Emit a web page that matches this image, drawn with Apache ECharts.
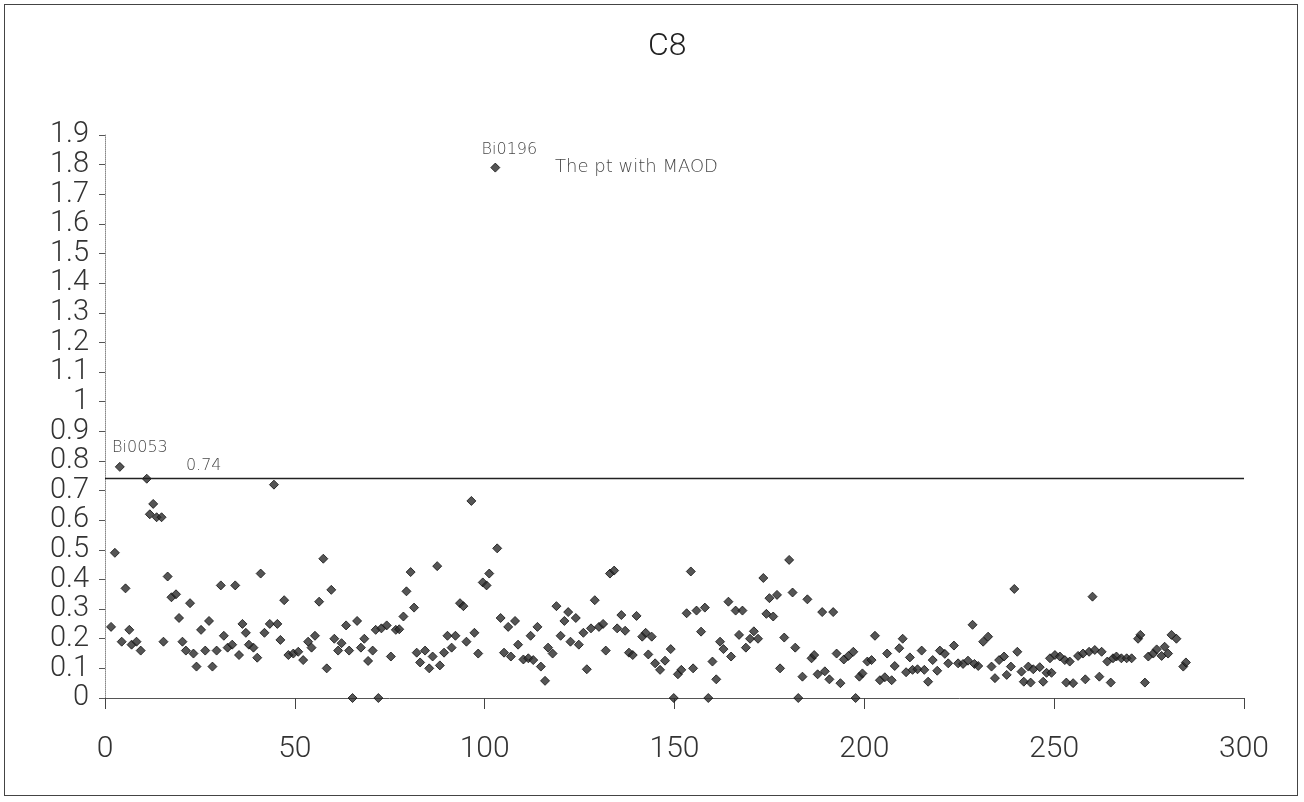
<!DOCTYPE html>
<html>
<head>
<meta charset="utf-8">
<script src="https://cdn.jsdelivr.net/npm/echarts@6/dist/echarts.min.js"></script>
<style>
html,body{margin:0;padding:0;background:#fff;}
#wrap{position:relative;width:1304px;height:802px;}
#frame{position:absolute;left:4px;top:4px;width:1294px;height:792px;border:1px solid #444;box-sizing:border-box;pointer-events:none;}
#chart{position:absolute;left:0;top:0;width:1304px;height:802px;}
</style>
</head>
<body>
<div id="wrap"><div id="chart"></div><div id="frame"></div></div>
<script>
// ---- data ----
var titleText = 'C8';
var sampleX = [
1.6,2.6,3.9,4.4,5.4,6.4,7,8.3,9.4,11,11.8,12.7,13.6,14.9,15.4,16.5,17.5,18.7,19.5,20.4,
21.3,22.4,23.3,24.1,25.3,26.4,27.4,28.3,29.4,30.5,31.3,32.3,33.5,34.3,35.3,36.2,37.1,37.9,39.1,40.1,
41,42,43.4,44.5,45.4,46.2,47.2,48.3,49.6,50.9,52.2,53.5,54.4,55.3,56.4,57.5,58.4,59.6,60.4,61.4,
62.3,63.5,64.3,65.2,66.4,67.4,68.3,69.3,70.5,71.3,72,72.8,74.2,75.3,76.6,77.5,78.6,79.4,80.5,81.4,
82.1,83,84.3,85.4,86.3,87.5,88.2,89.3,90.2,91.3,92.3,93.5,94.4,95.2,96.5,97.3,98.3,99.5,100.5,101.2,
102.8,103.3,104.2,105.1,106.2,106.9,108,108.8,110.2,111.5,112.1,112.8,113.9,114.8,115.9,116.7,117.9,118.9,120,121,
122,122.6,124,124.8,126,126.9,128,129,130.1,131.2,131.9,133,134.1,134.9,136,137,138,139,140,141.5,
142.4,143.1,144,144.9,146.2,147.5,149,149.8,150.9,151.8,153.2,154.3,154.9,155.8,157,158,158.9,160,161,162,
162.9,164.2,164.9,166.1,167,167.9,168.8,169.9,170.9,172,173.4,174.2,175,176,177,177.8,178.9,180.2,181.1,181.8,
182.6,183.7,185,186.1,186.8,187.7,188.9,189.6,190.8,191.8,192.7,193.7,194.6,195.8,197.1,197.7,198.7,199.5,200.8,201.9,
202.8,204.1,205.4,206,207.2,208,209.2,210.1,211,212,212.7,214,215.1,215.8,216.8,218,219.2,219.9,221.2,222.1,
223.6,224.7,226,227.3,228.5,229,230,231.3,232.6,233.5,234.4,235.5,236.8,237.5,238.6,239.5,240.3,241.4,242,243.2,
243.8,244.5,246.2,247.1,248,248.9,249.3,250.2,251.5,252.8,253.2,254.1,255,256.3,257.6,258.2,259.2,260.1,260.7,261.9,
262.5,264,264.9,265.5,266.4,267.7,269.1,270.4,272.1,272.7,273.9,274.8,276.1,277,278.3,279.1,280,280.9,282.2,284,
284.7
];
var sampleY = [
0.24,0.49,0.78,0.19,0.37,0.23,0.18,0.19,0.16,0.74,0.62,0.655,0.61,0.61,0.19,0.41,0.34,0.35,0.27,0.19,
0.16,0.32,0.15,0.106,0.23,0.16,0.26,0.106,0.16,0.38,0.21,0.17,0.18,0.38,0.145,0.25,0.22,0.18,0.17,0.136,
0.42,0.22,0.25,0.72,0.25,0.196,0.33,0.145,0.15,0.156,0.128,0.19,0.17,0.21,0.325,0.47,0.10,0.365,0.2,0.16,
0.185,0.245,0.16,0,0.26,0.17,0.2,0.125,0.16,0.23,0,0.235,0.245,0.14,0.23,0.232,0.275,0.36,0.425,0.305,
0.153,0.12,0.16,0.1,0.14,0.445,0.11,0.153,0.21,0.17,0.21,0.32,0.31,0.19,0.665,0.22,0.15,0.39,0.38,0.42,
1.79,0.505,0.27,0.153,0.24,0.14,0.26,0.18,0.13,0.134,0.21,0.128,0.24,0.106,0.058,0.17,0.15,0.31,0.21,0.26,
0.29,0.19,0.27,0.18,0.22,0.097,0.235,0.33,0.24,0.25,0.16,0.42,0.43,0.235,0.28,0.227,0.153,0.145,0.277,0.207,
0.22,0.147,0.207,0.117,0.095,0.126,0.165,0,0.08,0.095,0.286,0.427,0.1,0.295,0.224,0.305,0,0.123,0.063,0.19,
0.165,0.325,0.14,0.295,0.213,0.295,0.17,0.2,0.225,0.2,0.405,0.284,0.337,0.275,0.348,0.1,0.204,0.466,0.356,0.17,
0,0.072,0.333,0.134,0.145,0.08,0.29,0.09,0.063,0.29,0.15,0.05,0.13,0.142,0.156,0,0.072,0.083,0.123,0.128,
0.21,0.06,0.07,0.15,0.06,0.108,0.168,0.2,0.087,0.137,0.095,0.097,0.16,0.095,0.055,0.128,0.092,0.16,0.149,0.117,
0.177,0.117,0.115,0.126,0.247,0.115,0.108,0.19,0.207,0.106,0.067,0.128,0.14,0.078,0.106,0.368,0.156,0.089,0.055,0.106,
0.052,0.097,0.104,0.055,0.085,0.134,0.085,0.145,0.14,0.128,0.052,0.123,0.05,0.142,0.15,0.063,0.156,0.342,0.162,0.072,
0.156,0.123,0.052,0.134,0.14,0.134,0.134,0.134,0.2,0.213,0.052,0.14,0.15,0.164,0.142,0.173,0.15,0.213,0.2,0.106,
0.12
];
var thresholdValue = 0.74;
var annoText = ['Bi0053', '0.74', 'Bi0196', 'The pt with MAOD'];
var annoX = [9.2, 26, 106.5, 140];
var annoY = [0.845, 0.785, 1.85, 1.79];
var annoSize = [16, 16, 16, 18];
var xTicks = { min: 0, max: 300, interval: 50 };
var yTicks = { min: 0, max: 1.9, interval: 0.1 };

// ---- build ----
var points = sampleX.map(function (x, i) { return [x, sampleY[i]]; });
var annos = annoText.map(function (t, i) {
  return { value: [annoX[i], annoY[i]], name: t, label: { fontSize: annoSize[i] } };
});

var fontFam = 'Roboto, "Liberation Sans", Arial, sans-serif';

var chart = echarts.init(document.getElementById('chart'), null, { renderer: 'canvas' });
chart.setOption({
  animation: false,
  backgroundColor: '#fff',
  title: {
    text: titleText,
    left: 643, top: 26,
    textStyle: { fontFamily: fontFam, fontWeight: 300, fontSize: 32, color: '#222' }
  },
  grid: { left: 105, right: 60, top: 135, bottom: 104, containLabel: false },
  xAxis: {
    type: 'value', min: xTicks.min, max: xTicks.max, interval: xTicks.interval,
    axisLine: { show: true, onZero: true, lineStyle: { color: '#555', width: 1 } },
    axisTick: { show: true, length: 11, lineStyle: { color: '#444' } },
    axisLabel: { margin: 36, showMinLabel: true, showMaxLabel: true, hideOverlap: false,
      fontFamily: fontFam, fontWeight: 300, fontSize: 30, color: '#333' },
    splitLine: { show: false }
  },
  yAxis: {
    type: 'value', min: yTicks.min, max: yTicks.max, interval: yTicks.interval,
    axisLine: { show: true, lineStyle: { color: '#888', width: 1, type: 'dotted' } },
    axisTick: { show: true, length: 6, lineStyle: { color: '#555' } },
    axisLabel: {
      margin: 16, showMinLabel: true, showMaxLabel: true, hideOverlap: false,
      fontFamily: fontFam, fontWeight: 300, fontSize: 29, lineHeight: 22, color: '#333',
      formatter: function (v) { return String(+v.toFixed(1)); }
    },
    splitLine: { show: false }
  },
  series: [
    {
      type: 'scatter',
      data: points,
      symbol: 'diamond',
      symbolSize: 9,
      itemStyle: { color: '#2a2a2a', borderColor: '#111', borderWidth: 1 },
      markLine: {
        silent: true, symbol: 'none', animation: false,
        label: { show: false },
        lineStyle: { color: '#222', width: 1.3, type: 'solid' },
        data: [[{ coord: [xTicks.min, thresholdValue] }, { coord: [xTicks.max, thresholdValue] }]]
      }
    },
    {
      type: 'scatter',
      data: annos,
      symbolSize: 0,
      silent: true,
      label: {
        show: true, position: 'inside',
        formatter: function (p) { return p.name; },
        fontFamily: '"DejaVu Sans", sans-serif', fontSize: 16, fontWeight: 300, color: '#111'
      }
    }
  ]
});
</script>
</body>
</html>
